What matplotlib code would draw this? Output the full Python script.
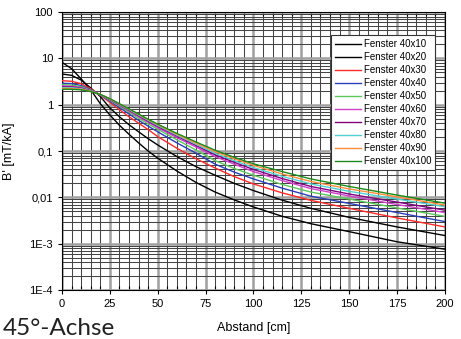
#!/usr/bin/env python3
"""B' over Abstand, 45 deg axis, windows 40x10 .. 40x100"""
import matplotlib
matplotlib.use('Agg')
import matplotlib.pyplot as plt
from matplotlib.ticker import FixedLocator, FixedFormatter, LogLocator, MultipleLocator

plt.rcParams['font.family'] = ['Liberation Sans', 'DejaVu Sans']

abstand = [0, 5, 10, 15, 20, 25, 30, 35, 40, 45, 50, 60, 70, 80, 90, 100, 115, 130, 150, 175, 200]

f40x10 = [8.2, 6.0, 3.6, 2.1, 1.05, 0.6, 0.36, 0.23, 0.15, 0.10, 0.07, 0.037, 0.021, 0.013, 0.0088,
          0.0062, 0.0039, 0.0027, 0.00182, 0.0011, 0.00076]
f40x20 = [4.6, 4.3, 3.4, 2.3, 1.5, 0.85, 0.55, 0.37, 0.26, 0.185, 0.135, 0.076, 0.046, 0.030, 0.020,
          0.014, 0.0087, 0.0058, 0.0037, 0.0023, 0.0015]
f40x30 = [3.3, 3.2, 2.85, 2.2, 1.6, 1.12, 0.78, 0.55, 0.40, 0.29, 0.205, 0.115, 0.068, 0.043, 0.028,
          0.0195, 0.0125, 0.0086, 0.0058, 0.0036, 0.0023]
f40x40 = [2.9, 2.85, 2.6, 2.1, 1.62, 1.2, 0.87, 0.63, 0.46, 0.345, 0.26, 0.15, 0.09, 0.052, 0.035,
          0.025, 0.0158, 0.0106, 0.0074, 0.0047, 0.0030]
f40x50 = [2.7, 2.65, 2.45, 2.05, 1.63, 1.25, 0.93, 0.69, 0.51, 0.385, 0.295, 0.175, 0.105, 0.062, 0.042,
          0.030, 0.019, 0.013, 0.0092, 0.0059, 0.0039]
f40x60 = [2.55, 2.5, 2.35, 2.0, 1.64, 1.28, 0.97, 0.73, 0.55, 0.42, 0.32, 0.195, 0.122, 0.076, 0.052,
          0.036, 0.023, 0.0155, 0.0107, 0.0070, 0.0047]
f40x70 = [2.45, 2.42, 2.28, 1.98, 1.65, 1.3, 1.0, 0.76, 0.58, 0.44, 0.34, 0.21, 0.132, 0.083, 0.057,
          0.040, 0.0255, 0.0172, 0.0118, 0.0079, 0.0053]
f40x80 = [2.35, 2.33, 2.22, 1.96, 1.66, 1.32, 1.02, 0.78, 0.60, 0.46, 0.355, 0.22, 0.14, 0.089, 0.062,
          0.044, 0.0285, 0.0195, 0.0135, 0.0092, 0.0063]
f40x90 = [2.25, 2.24, 2.16, 1.94, 1.67, 1.34, 1.04, 0.80, 0.62, 0.475, 0.37, 0.23, 0.148, 0.097, 0.068,
          0.049, 0.032, 0.022, 0.0152, 0.0103, 0.0068]
f40x100 = [2.15, 2.15, 2.1, 1.92, 1.67, 1.35, 1.05, 0.81, 0.63, 0.485, 0.38, 0.24, 0.157, 0.104, 0.073,
           0.053, 0.036, 0.025, 0.0172, 0.0112, 0.0075]

labels = ['Fenster 40x10', 'Fenster 40x20', 'Fenster 40x30', 'Fenster 40x40', 'Fenster 40x50',
          'Fenster 40x60', 'Fenster 40x70', 'Fenster 40x80', 'Fenster 40x90', 'Fenster 40x100']
series = [f40x10, f40x20, f40x30, f40x40, f40x50, f40x60, f40x70, f40x80, f40x90, f40x100]
colors = ['#000000', '#000000', '#ff2a2a', '#2a3fb8', '#5cc85c', '#d040c8',
          '#800080', '#50d0d0', '#ff8c3c', '#1a8a1a']

y_ticks = [1e2, 1e1, 1, 0.1, 0.01, 1e-3, 1e-4]
y_ticklabels = ['100', '10', '1', '0,1', '0,01', '1E-3', '1E-4']

fig = plt.figure(figsize=(4.61, 3.39), dpi=100)
ax = fig.add_axes([0.1345, 0.1445, 0.8305, 0.82])

for vals, lab, col in zip(series, labels, colors):
    ax.plot(abstand, vals, color=col, lw=1.0, label=lab, zorder=3)

ax.set_yscale('log')
ax.set_xlim(0, 200)
ax.set_ylim(1e-4, 100)

ax.yaxis.set_major_locator(FixedLocator(y_ticks))
ax.yaxis.set_major_formatter(FixedFormatter(y_ticklabels))
ax.yaxis.set_minor_locator(LogLocator(base=10, subs=range(2, 10)))
ax.xaxis.set_major_locator(MultipleLocator(25))
ax.xaxis.set_minor_locator(MultipleLocator(5))

ax.grid(True, which='major', color='#a0a0a0', lw=1.8, zorder=1)
ax.grid(True, which='minor', color='#444444', lw=0.75, zorder=1)

ax.tick_params(which='major', direction='out', length=3, labelsize=8, width=0.8)
ax.tick_params(which='minor', direction='in', length=3, width=0.8, top=True)
ax.tick_params(axis='y', which='minor', left=False)
for sp in ax.spines.values():
    sp.set_linewidth(0.8)

ax.set_xlabel('Abstand [cm]', fontsize=9, labelpad=9)
ax.set_ylabel("B' [mT/kA]", fontsize=9, labelpad=10)

leg = ax.legend(loc='upper right', bbox_to_anchor=(0.974, 0.917), fontsize=7,
                frameon=True, fancybox=False, edgecolor='#333333',
                handlelength=2.6, handletextpad=0.3, labelspacing=0.31,
                borderpad=0.4, borderaxespad=0)
leg.get_frame().set_linewidth(0.8)
leg.get_frame().set_facecolor('white')
leg.get_frame().set_alpha(1)

fig.text(0.005, 0.012, '45°-Achse', fontsize=17.5, family='Lato', color='#222222')

fig.savefig('out.png', dpi=100)
